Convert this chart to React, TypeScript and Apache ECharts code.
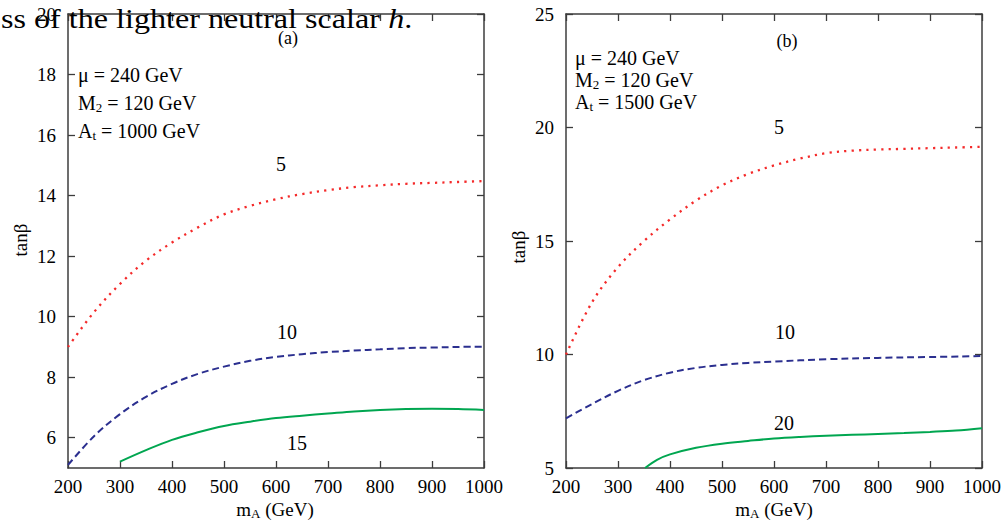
import React, { useEffect, useRef } from "react";
import * as echarts from "echarts";

// ---------- data ----------
const xTicks = [200, 300, 400, 500, 600, 700, 800, 900, 1000];
const yTicksA = [6, 8, 10, 12, 14, 16, 18, 20];
const yTicksB = [5, 10, 15, 20, 25];

// panel (a)
const redAx = [200, 250, 300, 350, 400, 450, 500, 550, 600, 650, 700, 750, 800, 850, 900, 950, 1000];
const redAy = [9.0, 10.15, 11.08, 11.85, 12.45, 12.95, 13.38, 13.66, 13.88, 14.05, 14.18, 14.28, 14.34, 14.39, 14.42, 14.45, 14.48];
const blueAx = [200, 250, 300, 350, 400, 450, 500, 550, 600, 650, 700, 750, 800, 850, 900, 950, 1000];
const blueAy = [5.1, 6.05, 6.78, 7.35, 7.78, 8.11, 8.35, 8.54, 8.67, 8.76, 8.83, 8.88, 8.92, 8.96, 8.98, 9.0, 9.01];
const greenAx = [300, 350, 400, 450, 500, 550, 600, 650, 700, 750, 800, 850, 900, 950, 1000];
const greenAy = [5.21, 5.59, 5.93, 6.18, 6.39, 6.53, 6.65, 6.73, 6.8, 6.87, 6.92, 6.95, 6.96, 6.95, 6.92];

// panel (b)
const redBx = [200, 250, 300, 350, 400, 450, 500, 550, 600, 650, 700, 750, 800, 850, 900, 950, 1000];
const redBy = [10.0, 12.3, 13.85, 15.0, 15.95, 16.78, 17.45, 17.95, 18.33, 18.63, 18.87, 18.98, 19.03, 19.06, 19.09, 19.12, 19.15];
const blueBx = [200, 250, 300, 350, 400, 450, 500, 550, 600, 700, 800, 900, 1000];
const blueBy = [7.19, 7.82, 8.4, 8.87, 9.2, 9.41, 9.54, 9.63, 9.69, 9.79, 9.85, 9.89, 9.93];
const greenBx = [352, 375, 400, 450, 500, 550, 600, 650, 700, 750, 800, 850, 900, 950, 1000];
const greenBy = [5.0, 5.36, 5.6, 5.89, 6.07, 6.19, 6.3, 6.37, 6.42, 6.46, 6.5, 6.54, 6.59, 6.65, 6.75];

const pairs = (xs: number[], ys: number[]) => xs.map((x, i) => [x, ys[i]]);

const FONT = "'Liberation Serif', 'Times New Roman', serif";
const AX = "#3c3c3c";
const RED = "#f42a2a";
const BLUE = "#2b2f8f";
const GREEN = "#00a650";

const plain = (v: number) => String(v);

function xAxesFor(grid: number) {
  const base = {
    gridIndex: grid,
    type: "value",
    min: 200,
    max: 1000,
    splitLine: { show: false },
    axisLine: { show: true, onZero: false, lineStyle: { color: AX, width: 1.5 } },
    axisTick: { show: true, inside: true, length: 7, customValues: xTicks, lineStyle: { color: AX, width: 1.3 } },
  };
  return [
    {
      ...base,
      position: "bottom",
      axisLabel: {
        show: true,
        customValues: xTicks,
        formatter: plain,
        margin: 9,
        color: "#000",
        fontFamily: FONT,
        fontSize: 19,
        showMinLabel: true,
        showMaxLabel: true,
      },
    },
    { ...base, position: "top", axisLabel: { show: false } },
  ];
}

function yAxesFor(grid: number, min: number, max: number, ticks: number[]) {
  const base = {
    gridIndex: grid,
    type: "value",
    min,
    max,
    splitLine: { show: false },
    axisLine: { show: true, onZero: false, lineStyle: { color: AX, width: 1.5 } },
    axisTick: { show: true, inside: true, length: 7, customValues: ticks, lineStyle: { color: AX, width: 1.3 } },
  };
  return [
    {
      ...base,
      position: "left",
      axisLabel: {
        show: true,
        customValues: ticks,
        formatter: plain,
        margin: 12,
        color: "#000",
        fontFamily: FONT,
        fontSize: 19,
        showMinLabel: true,
        showMaxLabel: true,
      },
    },
    { ...base, position: "right", axisLabel: { show: false } },
  ];
}

function line(xi: number, data: number[][], color: string, kind: "dot" | "dash" | "solid") {
  const type = kind === "dot" ? [2.2, 5.2] : kind === "dash" ? [7, 4] : "solid";
  return {
    type: "line",
    xAxisIndex: xi,
    yAxisIndex: xi,
    data,
    showSymbol: false,
    smooth: 0.35,
    lineStyle: { color, width: kind === "dot" ? 2.3 : 2, type, cap: "butt" },
    z: 3,
  };
}

const sub = { fontSize: 13, lineHeight: 10, verticalAlign: "bottom", fontFamily: FONT, fill: "#000" };

function txt(x: number, y: number, text: string, size = 20, align = "center", extra: any = {}) {
  return {
    type: "text",
    x,
    y,
    z: 10,
    ...extra,
    style: {
      text,
      fontFamily: FONT,
      fontSize: size,
      lineHeight: 22,
      fill: "#000",
      align,
      verticalAlign: "middle",
      textAlign: align,
      textVerticalAlign: "middle",
      rich: {
        s: sub,
        n: { fontFamily: FONT, fontSize: size, lineHeight: 22, fill: "#000" },
      },
    },
  };
}

export default function App() {
  const ref = useRef<HTMLDivElement>(null);
  useEffect(() => {
    document.body.style.margin = "0";
    if (!ref.current) return;
    const chart = echarts.init(ref.current, undefined, { renderer: "svg" });
    chart.setOption({
      animation: false,
      backgroundColor: "#fff",
      grid: [
        { left: 68, top: 14, width: 416, height: 454, containLabel: false },
        { left: 566, top: 14, width: 416, height: 454, containLabel: false },
      ],
      xAxis: [...xAxesFor(0), ...xAxesFor(1)],
      yAxis: [...yAxesFor(0, 5, 20, yTicksA), ...yAxesFor(1, 5, 25, yTicksB)],
      series: [
        line(0, pairs(redAx, redAy), RED, "dot"),
        line(0, pairs(blueAx, blueAy), BLUE, "dash"),
        line(0, pairs(greenAx, greenAy), GREEN, "solid"),
        line(2, pairs(redBx, redBy), RED, "dot"),
        line(2, pairs(blueBx, blueBy), BLUE, "dash"),
        line(2, pairs(greenBx, greenBy), GREEN, "solid"),
      ],
      graphic: [
        // panel (a)
        txt(288, 38, "(a)", 18),
        txt(78, 75, "{n|μ = 240 GeV}", 20, "left"),
        txt(78, 103, "{n|M}{s|2}{n| = 120 GeV}", 20, "left"),
        txt(78, 131, "{n|A}{s|t}{n| = 1000 GeV}", 20, "left"),
        txt(281, 164, "5", 20),
        txt(287, 332, "10", 20),
        txt(297, 443, "15", 20),
        txt(20, 240, "tanβ", 19, "center", { rotation: Math.PI / 2 }),
        txt(275, 509, "{n|m}{s|A}{n| (GeV)}", 19),
        // panel (b)
        txt(787, 41, "(b)", 18),
        txt(575, 58, "{n|μ = 240 GeV}", 20, "left"),
        txt(575, 80, "{n|M}{s|2}{n| = 120 GeV}", 20, "left"),
        txt(575, 102, "{n|A}{s|t}{n| = 1500 GeV}", 20, "left"),
        txt(779, 127, "5", 20),
        txt(785, 332, "10", 20),
        txt(784, 423, "20", 20),
        txt(518, 247, "tanβ", 19, "center", { rotation: Math.PI / 2 }),
        txt(774, 509, "{n|m}{s|A}{n| (GeV)}", 19),
        // overlapping caption fragment from the page
        {
          type: "text",
          x: 1,
          y: 19,
          z: 20,
          scaleX: 1.19,
          style: {
            text: "{r|ss of the lighter neutral scalar }{i|h}{r|.}",
            fontFamily: FONT,
            fontSize: 27,
            fill: "#000",
            align: "left",
            verticalAlign: "middle",
            textAlign: "left",
            textVerticalAlign: "middle",
            rich: {
              r: { fontFamily: FONT, fontSize: 27, fill: "#000" },
              i: { fontStyle: "italic", fontFamily: FONT, fontSize: 27, fill: "#000" },
            },
          },
        },
      ],
    });
    return () => chart.dispose();
  }, []);
  return <div ref={ref} style={{ width: 1005, height: 521 }} />;
}
